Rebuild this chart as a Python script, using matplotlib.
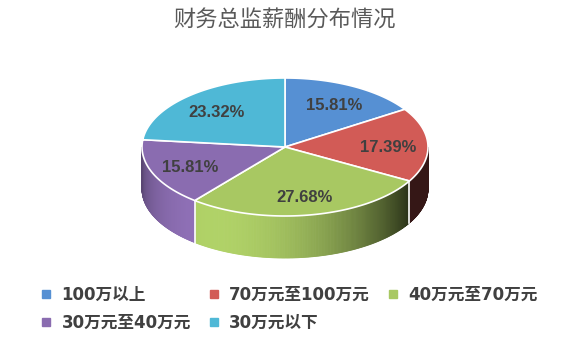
"""3D-style pie: CFO salary distribution."""

import numpy as np
import matplotlib

matplotlib.use("Agg")
import matplotlib.pyplot as plt
from matplotlib.colors import to_rgb
from matplotlib.lines import Line2D
from matplotlib.patches import Polygon


TITLE = "财务总监薪酬分布情况"
CATEGORIES = ["100万以上", "70万元至100万元", "40万元至70万元", "30万元至40万元", "30万元以下"]
SHARES = [15.81, 17.39, 27.68, 15.81, 23.32]
COLORS = ["#5690D3", "#D25B56", "#A8C862", "#8A6CB0", "#4FB8D6"]

# pie geometry in pixels (the axes covers the whole figure)
CX, CY = 285, 147
RX, RY = 143, 69
DEPTH = 42
LABEL_R = 0.72


def ellipse_xy(theta, dy=0.0, scale=1.0):
    t = np.radians(theta)
    return CX + scale * RX * np.cos(t), CY - scale * RY * np.sin(t) + dy


def shade(theta):
    c = np.cos(np.radians(theta - 240))
    return 0.25 + 0.8 * max(c, 0.0)


plt.rcParams["font.family"] = ["DejaVu Sans", "Noto Sans CJK SC"]

fig = plt.figure(figsize=(5.63, 3.44), dpi=100)
ax = fig.add_axes([0, 0, 1, 1])
ax.set_xlim(0, 563)
ax.set_ylim(344, 0)
ax.axis("off")

total = sum(SHARES)
bounds = 90 - 360 * np.cumsum([0] + SHARES) / total

# side walls, drawn as thin shaded strips
for i, color in enumerate(COLORS):
    base = np.array(to_rgb(color))
    steps = np.linspace(bounds[i], bounds[i + 1], 200)
    for a, b in zip(steps[:-1], steps[1:]):
        mid = (a + b) / 2
        if np.sin(np.radians(mid)) >= 0:
            continue
        rgb = np.clip(base * shade(mid % 360), 0, 1)
        pts = [ellipse_xy(a), ellipse_xy(b), ellipse_xy(b, DEPTH), ellipse_xy(a, DEPTH)]
        ax.add_patch(Polygon(pts, closed=True, facecolor=rgb, edgecolor=rgb, linewidth=0.6, zorder=1))

for ang in bounds:
    if np.sin(np.radians(ang)) < 0:
        x0, y0 = ellipse_xy(ang)
        x1, y1 = ellipse_xy(ang, DEPTH)
        ax.plot([x0, x1], [y0, y1], color="white", linewidth=1.2, zorder=2)

# top faces
for i, color in enumerate(COLORS):
    arc = np.linspace(bounds[i], bounds[i + 1], 120)
    pts = [(CX, CY)] + [ellipse_xy(t) for t in arc]
    ax.add_patch(Polygon(pts, closed=True, facecolor=color, edgecolor="white", linewidth=1.2, zorder=3))

for i, value in enumerate(SHARES):
    mid = (bounds[i] + bounds[i + 1]) / 2
    x, y = ellipse_xy(mid, scale=LABEL_R)
    ax.text(x, y + 2, f"{value:.2f}%", ha="center", va="center", fontsize=12,
            fontweight="bold", color="#404040", family=["Liberation Sans"], zorder=4)

ax.text(285, 20, TITLE, ha="center", va="center", fontsize=16, color="#595959",
        family=["Noto Sans CJK SC"])

handles = [Line2D([], [], marker="s", linestyle="none", markersize=6, color=c) for c in COLORS]
order = [0, 3, 1, 4, 2]
fig.legend(
    [handles[k] for k in order],
    [CATEGORIES[k] for k in order],
    ncol=3,
    loc="upper left",
    bbox_to_anchor=(40 / 563, 1 - 286 / 344),
    frameon=False,
    borderpad=0,
    borderaxespad=0,
    handlelength=0.7,
    handletextpad=0.6,
    columnspacing=1.0,
    labelspacing=0.6,
    prop={"size": 12, "weight": "bold"},
    labelcolor="#404040",
)

fig.savefig("out.png", dpi=100)
